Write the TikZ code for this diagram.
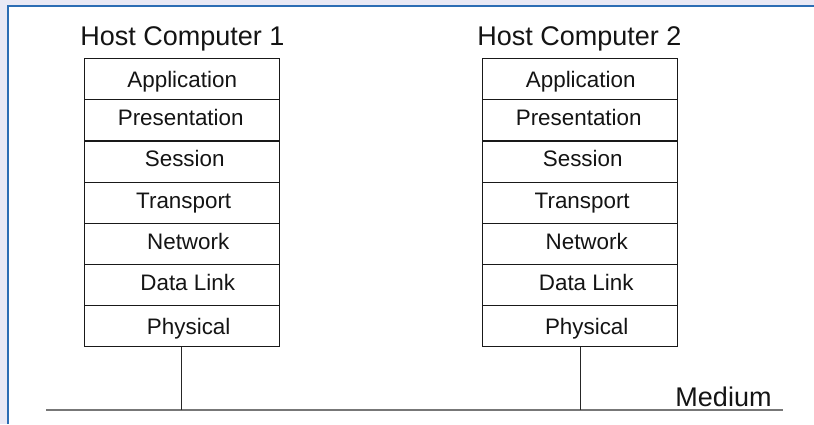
\documentclass[tikz,border=0pt]{standalone}
\usepackage{fontspec}
\setmainfont{Liberation Sans}
\definecolor{bgl}{HTML}{E9E9F5}
\definecolor{frameblue}{HTML}{2C6DB4}
\definecolor{linegray}{HTML}{777777}
\begin{document}
\begin{tikzpicture}[x=1pt,y=-1pt,
  layerbox/.style={draw=black!90, line width=1.2pt, minimum width=195pt, minimum height=41.14pt, inner sep=0pt},
  layertext/.style={anchor=base, inner sep=0pt, font=\fontsize{22.4}{26}\selectfont, text=black!92},
  titletext/.style={anchor=base, inner sep=0pt, font=\fontsize{27}{31}\selectfont, text=black!92},
  wire/.style={draw=black!85, line width=1.2pt}]
\useasboundingbox (0,0) rectangle (814,424);
\fill[bgl] (0,0) rectangle (814,424);
\fill[white] (8,6) rectangle (814,424);
\draw[frameblue, line width=2.2pt] (8,424) -- (8,6) -- (814,6);

% titles
\node[titletext] (t1) at (182.5,45) {Host Computer 1};
\node[titletext] (t2) at (579.5,45) {Host Computer 2};

% left stack
\foreach \i/\nm/\txt/\dx/\by in {0/a/Application/0.5/87.5, 1/b/Presentation/-1/125.5, 2/c/Session/3/166.5, 3/d/Transport/2/208, 4/e/Network/6.5/249.3, 5/f/Data Link/6/290.5, 6/g/Physical/7/334.3}{
  \node[layerbox] (L\nm) at (181.7,{79.27+41.14*\i}) {};
  \node[layertext] (LT\nm) at ({181.7+\dx},\by) {\txt};
}
% right stack
\foreach \i/\nm/\txt/\dx/\by in {0/a/Application/0.5/87.5, 1/b/Presentation/-1.5/125.5, 2/c/Session/2.5/166.5, 3/d/Transport/2/208, 4/e/Network/6.5/249.3, 5/f/Data Link/6/290.5, 6/g/Physical/6.5/334.3}{
  \node[layerbox] (R\nm) at (580.2,{79.27+41.14*\i}) {};
  \node[layertext] (RT\nm) at ({580.2+\dx},\by) {\txt};
}

% medium
\coordinate (mL) at (46,410);
\coordinate (mR) at (783,410);
\draw[linegray, line width=2pt] (mL) -- (mR);
\node[titletext] (med) at (723.5,406) {Medium};

\draw[wire] (Lg.south) -- (Lg.south |- mL);
\draw[wire] (Rg.south) -- (Rg.south |- mL);
\end{tikzpicture}
\end{document}
